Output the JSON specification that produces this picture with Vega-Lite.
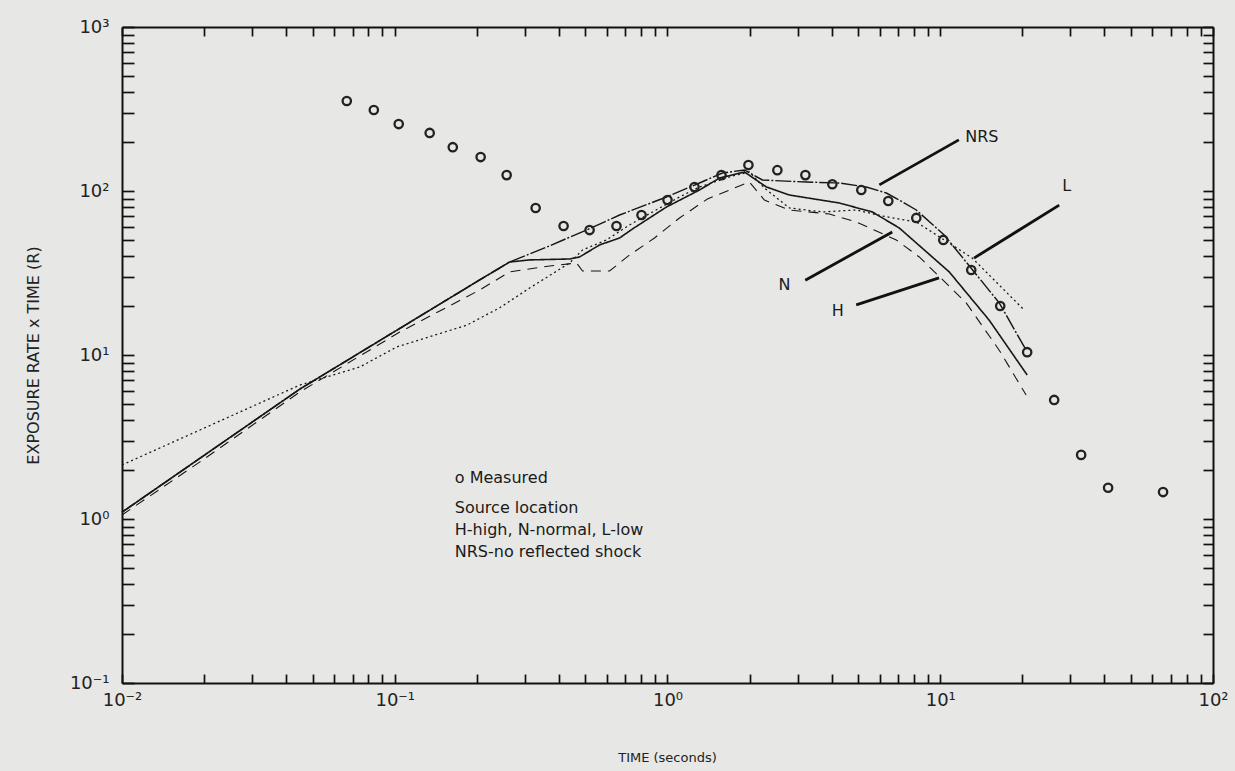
{
  "$schema": "https://vega.github.io/schema/vega-lite/v6.json",
  "width": 1091,
  "height": 656,
  "autosize": {"type": "none"},
  "padding": {"left": 122, "top": 27, "right": 22, "bottom": 88},
  "background": "#e7e7e5",
  "config": {
    "view": {"stroke": null},
    "axis": {
      "grid": false,
      "domainColor": "#111111",
      "domainWidth": 2,
      "tickColor": "#111111",
      "tickWidth": 1.7,
      "labelFont": "DejaVu Sans",
      "labelFontSize": 18,
      "labelColor": "#222222",
      "labelOverlap": false,
      "labelFlush": false,
      "titleFont": "DejaVu Sans",
      "titleFontSize": 13,
      "titleFontWeight": "normal",
      "titleColor": "#222222"
    }
  },
  "datasets": {
    "curves": [
      {"s": "N", "t": 0.01, "v": 1.1},
      {"s": "N", "t": 0.0449, "v": 6.2},
      {"s": "N", "t": 0.2048, "v": 28.7},
      {"s": "N", "t": 0.2637, "v": 36.9},
      {"s": "N", "t": 0.3123, "v": 38.0},
      {"s": "N", "t": 0.4375, "v": 38.5},
      {"s": "N", "t": 0.4761, "v": 39.6},
      {"s": "N", "t": 0.5636, "v": 46.9},
      {"s": "N", "t": 0.6672, "v": 51.7},
      {"s": "N", "t": 0.7443, "v": 58.7},
      {"s": "N", "t": 0.9915, "v": 79.9},
      {"s": "N", "t": 1.3095, "v": 101.4},
      {"s": "N", "t": 1.551, "v": 120.0},
      {"s": "N", "t": 1.915, "v": 130.6},
      {"s": "N", "t": 2.305, "v": 105.8},
      {"s": "N", "t": 2.798, "v": 94.5},
      {"s": "N", "t": 4.266, "v": 84.5},
      {"s": "N", "t": 5.634, "v": 74.5},
      {"s": "N", "t": 7.076, "v": 59.5},
      {"s": "N", "t": 10.79, "v": 32.1},
      {"s": "N", "t": 15.12, "v": 16.3},
      {"s": "N", "t": 20.83, "v": 7.55},
      {"s": "NRS", "t": 0.01, "v": 1.1},
      {"s": "NRS", "t": 0.0449, "v": 6.2},
      {"s": "NRS", "t": 0.2048, "v": 28.7},
      {"s": "NRS", "t": 0.2637, "v": 36.9},
      {"s": "NRS", "t": 0.3603, "v": 45.5},
      {"s": "NRS", "t": 0.505, "v": 57.8},
      {"s": "NRS", "t": 0.6672, "v": 71.4},
      {"s": "NRS", "t": 0.9915, "v": 91.9},
      {"s": "NRS", "t": 1.3095, "v": 111.9},
      {"s": "NRS", "t": 1.59, "v": 128.8},
      {"s": "NRS", "t": 1.915, "v": 134.3},
      {"s": "NRS", "t": 2.228, "v": 116.7},
      {"s": "NRS", "t": 3.23, "v": 113.4},
      {"s": "NRS", "t": 4.266, "v": 111.9},
      {"s": "NRS", "t": 5.356, "v": 105.8},
      {"s": "NRS", "t": 6.341, "v": 97.2},
      {"s": "NRS", "t": 7.076, "v": 88.1},
      {"s": "NRS", "t": 8.168, "v": 76.6},
      {"s": "NRS", "t": 10.34, "v": 53.9},
      {"s": "NRS", "t": 13.32, "v": 32.1},
      {"s": "NRS", "t": 16.45, "v": 20.8},
      {"s": "NRS", "t": 20.65, "v": 10.7},
      {"s": "L", "t": 0.01, "v": 2.135},
      {"s": "L", "t": 0.01931, "v": 3.49},
      {"s": "L", "t": 0.04487, "v": 6.56},
      {"s": "L", "t": 0.07441, "v": 8.45},
      {"s": "L", "t": 0.1017, "v": 11.2},
      {"s": "L", "t": 0.1378, "v": 13.1},
      {"s": "L", "t": 0.1836, "v": 15.2},
      {"s": "L", "t": 0.2424, "v": 19.4},
      {"s": "L", "t": 0.3123, "v": 25.6},
      {"s": "L", "t": 0.4375, "v": 36.4},
      {"s": "L", "t": 0.4882, "v": 43.7},
      {"s": "L", "t": 0.5978, "v": 50.3},
      {"s": "L", "t": 0.7256, "v": 62.1},
      {"s": "L", "t": 0.8812, "v": 74.5},
      {"s": "L", "t": 1.1066, "v": 91.9},
      {"s": "L", "t": 1.3095, "v": 105.8},
      {"s": "L", "t": 1.73, "v": 123.4},
      {"s": "L", "t": 1.997, "v": 130.6},
      {"s": "L", "t": 2.266, "v": 104.3},
      {"s": "L", "t": 2.798, "v": 78.8},
      {"s": "L", "t": 3.697, "v": 74.5},
      {"s": "L", "t": 4.923, "v": 76.6},
      {"s": "L", "t": 6.13, "v": 70.4},
      {"s": "L", "t": 8.168, "v": 64.7},
      {"s": "L", "t": 10.34, "v": 50.3},
      {"s": "L", "t": 13.1, "v": 39.0},
      {"s": "L", "t": 16.45, "v": 26.7},
      {"s": "L", "t": 20.31, "v": 18.8},
      {"s": "H", "t": 0.01, "v": 1.058},
      {"s": "H", "t": 0.01931, "v": 2.23},
      {"s": "H", "t": 0.04487, "v": 5.95},
      {"s": "H", "t": 0.1043, "v": 13.8},
      {"s": "H", "t": 0.2048, "v": 24.9},
      {"s": "H", "t": 0.2637, "v": 32.1},
      {"s": "H", "t": 0.3696, "v": 34.9},
      {"s": "H", "t": 0.4642, "v": 36.4},
      {"s": "H", "t": 0.4882, "v": 32.5},
      {"s": "H", "t": 0.613, "v": 32.5},
      {"s": "H", "t": 0.7256, "v": 40.7},
      {"s": "H", "t": 0.8962, "v": 51.7},
      {"s": "H", "t": 1.1066, "v": 68.5},
      {"s": "H", "t": 1.401, "v": 89.4},
      {"s": "H", "t": 1.835, "v": 107.3},
      {"s": "H", "t": 1.997, "v": 113.4},
      {"s": "H", "t": 2.266, "v": 88.1},
      {"s": "H", "t": 2.798, "v": 76.6},
      {"s": "H", "t": 3.921, "v": 72.4},
      {"s": "H", "t": 4.923, "v": 64.7},
      {"s": "H", "t": 6.899, "v": 50.3},
      {"s": "H", "t": 8.378, "v": 39.6},
      {"s": "H", "t": 12.45, "v": 20.8},
      {"s": "H", "t": 16.45, "v": 10.7},
      {"s": "H", "t": 20.65, "v": 5.7}
    ],
    "measured": [
      {"t": 0.0667, "v": 354},
      {"t": 0.0838, "v": 312},
      {"t": 0.1034, "v": 256},
      {"t": 0.1343, "v": 226},
      {"t": 0.1632, "v": 185},
      {"t": 0.2065, "v": 161},
      {"t": 0.2572, "v": 125},
      {"t": 0.3285, "v": 78.8},
      {"t": 0.4159, "v": 61.2},
      {"t": 0.518, "v": 57.8},
      {"t": 0.65, "v": 61.2},
      {"t": 0.803, "v": 71.4},
      {"t": 1.0, "v": 88.1},
      {"t": 1.256, "v": 105.8},
      {"t": 1.577, "v": 125},
      {"t": 1.98, "v": 144},
      {"t": 2.528, "v": 134},
      {"t": 3.203, "v": 125},
      {"t": 4.021, "v": 110},
      {"t": 5.135, "v": 101.4},
      {"t": 6.449, "v": 86.9},
      {"t": 8.168, "v": 68.5},
      {"t": 10.26, "v": 50.3},
      {"t": 12.99, "v": 33.0},
      {"t": 16.59, "v": 19.9},
      {"t": 20.83, "v": 10.4},
      {"t": 26.16, "v": 5.32},
      {"t": 32.85, "v": 2.46},
      {"t": 41.25, "v": 1.55},
      {"t": 65.6, "v": 1.46}
    ],
    "pointers": [
      {"s": "NRS", "t": 5.98, "v": 109, "t2": 11.7, "v2": 205},
      {"s": "L", "t": 13.3, "v": 39, "t2": 27.3, "v2": 82},
      {"s": "N", "t": 3.2, "v": 28.6, "t2": 6.67, "v2": 56.2},
      {"s": "H", "t": 4.92, "v": 20.2, "t2": 9.9, "v2": 29.5}
    ],
    "labels": [
      {"label": "NRS", "t": 12.35, "v": 213},
      {"label": "L", "t": 28.0, "v": 107},
      {"label": "N", "t": 2.55, "v": 26.7},
      {"label": "H", "t": 4.0, "v": 18.5}
    ],
    "legend": [
      {"text": "o Measured", "t": 0.166, "v": 1.78},
      {"text": "Source location", "t": 0.166, "v": 1.167},
      {"text": "H-high, N-normal, L-low", "t": 0.166, "v": 0.857},
      {"text": "NRS-no reflected shock", "t": 0.166, "v": 0.63}
    ]
  },
  "layer": [
    {
      "data": {"name": "curves"},
      "mark": {"type": "line", "color": "#161616"},
      "encoding": {
        "x": {
          "field": "t",
          "type": "quantitative",
          "scale": {"type": "log", "domain": [0.01, 100], "nice": false},
          "axis": {
            "orient": "bottom",
            "values": [0.01, 0.02, 0.03, 0.04, 0.05, 0.06, 0.07, 0.08, 0.09, 0.1, 0.2, 0.3, 0.4, 0.5, 0.6, 0.7, 0.8, 0.9, 1, 2, 3, 4, 5, 6, 7, 8, 9, 10, 20, 30, 40, 50, 60, 70, 80, 90, 100],
            "labelExpr": "datum.value == 0.01 ? '10⁻²' : datum.value == 0.1 ? '10⁻¹' : datum.value == 1 ? '10⁰' : datum.value == 10 ? '10¹' : datum.value == 100 ? '10²' : ''",
            "tickSize": -9,
            "labelPadding": 17,
            "title": "TIME (seconds)",
            "titleX": 545,
            "titleY": 74,
            "titleAnchor": "middle",
            "titleAlign": "center",
            "titleBaseline": "middle"
          }
        },
        "y": {
          "field": "v",
          "type": "quantitative",
          "scale": {"type": "log", "domain": [0.1, 1000], "nice": false},
          "axis": {
            "orient": "left",
            "values": [0.1, 0.2, 0.3, 0.4, 0.5, 0.6, 0.7, 0.8, 0.9, 1, 2, 3, 4, 5, 6, 7, 8, 9, 10, 20, 30, 40, 50, 60, 70, 80, 90, 100, 200, 300, 400, 500, 600, 700, 800, 900, 1000],
            "labelExpr": "datum.value == 0.1 ? '10⁻¹' : datum.value == 1 ? '10⁰' : datum.value == 10 ? '10¹' : datum.value == 100 ? '10²' : datum.value == 1000 ? '10³' : ''",
            "tickSize": -12,
            "labelPadding": 25,
            "title": "EXPOSURE RATE x TIME (R)",
            "titleFontSize": 16,
            "titleX": -89,
            "titleY": 328,
            "titleAngle": -90,
            "titleAlign": "center",
            "titleBaseline": "middle"
          }
        },
        "detail": {"field": "s"},
        "strokeDash": {
          "field": "s",
          "type": "nominal",
          "scale": {"domain": ["N", "NRS", "L", "H"], "range": [[1, 0], [16, 2, 2, 2], [2, 3], [10, 7]]},
          "legend": null
        },
        "strokeWidth": {
          "field": "s",
          "type": "nominal",
          "scale": {"domain": ["N", "NRS", "L", "H"], "range": [1.6, 1.1, 1.8, 2.1]},
          "legend": null
        }
      }
    },
    {
      "data": {"name": "measured"},
      "mark": {"type": "point", "shape": "circle", "filled": false, "size": 70, "strokeWidth": 2.3, "color": "#222222", "opacity": 1},
      "encoding": {
        "x": {
          "field": "t",
          "type": "quantitative",
          "axis": {
            "orient": "top",
            "values": [0.01, 0.02, 0.03, 0.04, 0.05, 0.06, 0.07, 0.08, 0.09, 0.1, 0.2, 0.3, 0.4, 0.5, 0.6, 0.7, 0.8, 0.9, 1, 2, 3, 4, 5, 6, 7, 8, 9, 10, 20, 30, 40, 50, 60, 70, 80, 90, 100],
            "labels": false,
            "tickSize": -9,
            "title": null
          }
        },
        "y": {
          "field": "v",
          "type": "quantitative",
          "axis": {
            "orient": "right",
            "values": [0.1, 0.2, 0.3, 0.4, 0.5, 0.6, 0.7, 0.8, 0.9, 1, 2, 3, 4, 5, 6, 7, 8, 9, 10, 20, 30, 40, 50, 60, 70, 80, 90, 100, 200, 300, 400, 500, 600, 700, 800, 900, 1000],
            "labels": false,
            "tickSize": -10,
            "title": null
          }
        }
      }
    },
    {
      "data": {"name": "pointers"},
      "mark": {"type": "rule", "color": "#111111", "strokeWidth": 2.8},
      "encoding": {
        "x": {"field": "t", "type": "quantitative", "axis": null},
        "y": {"field": "v", "type": "quantitative", "axis": null},
        "x2": {"field": "t2"},
        "y2": {"field": "v2"}
      }
    },
    {
      "data": {"name": "labels"},
      "mark": {"type": "text", "align": "left", "baseline": "middle", "font": "DejaVu Sans", "fontSize": 16, "color": "#1a1a1a"},
      "encoding": {
        "x": {"field": "t", "type": "quantitative", "axis": null},
        "y": {"field": "v", "type": "quantitative", "axis": null},
        "text": {"field": "label"}
      }
    },
    {
      "data": {"name": "legend"},
      "mark": {"type": "text", "align": "left", "baseline": "middle", "font": "DejaVu Sans", "fontSize": 16, "color": "#1a1a1a"},
      "encoding": {
        "x": {"field": "t", "type": "quantitative", "axis": null},
        "y": {"field": "v", "type": "quantitative", "axis": null},
        "text": {"field": "text"}
      }
    }
  ],
  "resolve": {"axis": {"x": "independent", "y": "independent"}}
}
